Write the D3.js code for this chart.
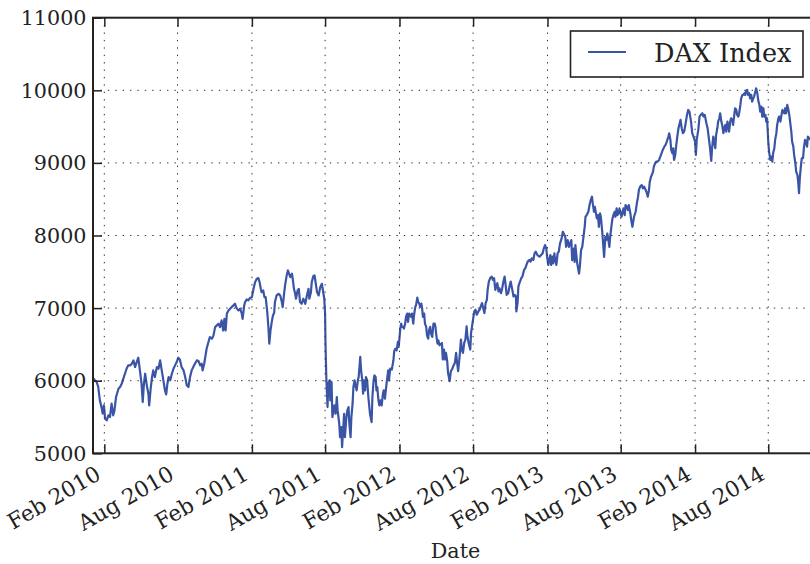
<!DOCTYPE html>
<html>
<head>
<meta charset="utf-8">
<script src="https://cdn.jsdelivr.net/npm/d3@7"></script>
<style>
  html, body { margin: 0; padding: 0; background: #fff; }
  svg { display: block; }
  text { font-family: "DejaVu Serif", serif; fill: #222; }
</style>
</head>
<body>
<svg id="chart" width="810" height="564"></svg>
<script>
// DAX closing levels, [date, index level], sampled every few trading days
const dax2010 = [
  ["2010-01-04",6040],["2010-01-08",6010],["2010-01-13",5982],["2010-01-17",5913],["2010-01-21",5729],
  ["2010-01-25",5637],["2010-01-28",5546],["2010-01-31",5660],["2010-02-03",5477],["2010-02-07",5454],
  ["2010-02-11",5523],["2010-02-15",5500],["2010-02-19",5683],["2010-02-23",5523],["2010-02-26",5591],
  ["2010-03-02",5775],["2010-03-08",5890],["2010-03-12",5913],["2010-03-16",5959],["2010-03-20",6028],
  ["2010-03-24",6096],["2010-03-28",6165],["2010-04-01",6211],["2010-04-06",6211],["2010-04-10",6234],
  ["2010-04-14",6280],["2010-04-18",6188],["2010-04-22",6257],["2010-04-26",6317],["2010-04-30",6142],
  ["2010-05-04",5959],["2010-05-07",5706],["2010-05-10",5959],["2010-05-13",6096],["2010-05-17",5936],
  ["2010-05-21",5821],["2010-05-23",5660],["2010-05-27",5913],["2010-05-30",6050],["2010-06-02",6142],
  ["2010-06-06",6050],["2010-06-11",6188],["2010-06-15",6165],["2010-06-19",6280],["2010-06-23",6142],
  ["2010-06-27",6005],["2010-07-01",5867],["2010-07-04",5812],["2010-07-07",5959],["2010-07-10",6050],
  ["2010-07-14",6005],["2010-07-18",6096],["2010-07-22",6165],["2010-07-26",6211],["2010-07-30",6257],
  ["2010-08-03",6317],["2010-08-07",6289],["2010-08-11",6188],["2010-08-16",6142],["2010-08-20",6050],
  ["2010-08-24",5936],["2010-08-28",5913],["2010-09-01",6050],["2010-09-05",6142],["2010-09-09",6188],
  ["2010-09-13",6234],["2010-09-18",6280],["2010-09-22",6271],["2010-09-26",6211],["2010-09-30",6234],
  ["2010-10-02",6142],["2010-10-06",6234],["2010-10-08",6302],["2010-10-12",6440],["2010-10-16",6523],
  ["2010-10-20",6601],["2010-10-25",6578],["2010-10-29",6624],["2010-11-02",6738],["2010-11-06",6761],
  ["2010-11-10",6784],["2010-11-14",6738],["2010-11-18",6830],["2010-11-22",6692],["2010-11-25",6853],
  ["2010-11-28",6692],["2010-12-01",6922],["2010-12-05",6968],["2010-12-09",6991],["2010-12-13",7014],
  ["2010-12-17",7037],["2010-12-21",7060],["2010-12-25",7000],["2010-12-30",6968]
];
const dax2011 = [
  ["2011-01-03",6991],["2011-01-07",6922],["2011-01-09",6853],["2011-01-13",7037],["2011-01-15",7083],
  ["2011-01-19",7119],["2011-01-23",7106],["2011-01-27",7138],["2011-02-01",7151],["2011-02-05",7266],
  ["2011-02-09",7358],["2011-02-13",7404],["2011-02-17",7413],["2011-02-20",7358],["2011-02-23",7266],
  ["2011-02-25",7220],["2011-03-01",7243],["2011-03-04",7151],["2011-03-07",7151],["2011-03-11",6945],
  ["2011-03-14",6715],["2011-03-16",6509],["2011-03-19",6692],["2011-03-22",6807],["2011-03-25",6899],
  ["2011-03-28",6936],["2011-03-30",7083],["2011-04-03",7174],["2011-04-08",7197],["2011-04-12",7174],
  ["2011-04-16",7083],["2011-04-18",7014],["2011-04-22",7220],["2011-04-24",7312],["2011-04-28",7450],
  ["2011-05-01",7519],["2011-05-04",7473],["2011-05-07",7427],["2011-05-11",7473],["2011-05-13",7404],
  ["2011-05-16",7266],["2011-05-19",7197],["2011-05-21",7129],["2011-05-25",7243],["2011-05-28",7266],
  ["2011-05-31",7083],["2011-06-04",7060],["2011-06-08",7129],["2011-06-13",7060],["2011-06-17",7174],
  ["2011-06-21",7266],["2011-06-23",7129],["2011-06-27",7220],["2011-06-29",7358],["2011-07-03",7441],
  ["2011-07-06",7450],["2011-07-09",7335],["2011-07-12",7220],["2011-07-16",7174],["2011-07-20",7289],
  ["2011-07-24",7335],["2011-07-26",7266],["2011-07-30",7129],["2011-08-01",6922],["2011-08-02",6511],
  ["2011-08-04",6051],["2011-08-07",5637],["2011-08-09",5959],["2011-08-12",6005],["2011-08-14",5729],
  ["2011-08-17",5982],["2011-08-19",5499],["2011-08-22",5591],["2011-08-24",5660],["2011-08-27",5545],
  ["2011-08-30",5775],["2011-09-01",5591],["2011-09-05",5407],["2011-09-07",5223],["2011-09-10",5361],
  ["2011-09-12",5085],["2011-09-15",5361],["2011-09-17",5545],["2011-09-19",5223],["2011-09-22",5453],
  ["2011-09-25",5591],["2011-09-28",5637],["2011-09-30",5407],["2011-10-03",5223],["2011-10-05",5499],
  ["2011-10-08",5683],["2011-10-10",5913],["2011-10-13",6005],["2011-10-15",5936],["2011-10-18",5867],
  ["2011-10-21",6005],["2011-10-23",6051],["2011-10-27",6327],["2011-10-29",6143],["2011-11-01",6005],
  ["2011-11-03",5821],["2011-11-05",6005],["2011-11-08",5867],["2011-11-10",6051],["2011-11-13",6005],
  ["2011-11-16",5775],["2011-11-20",5545],["2011-11-24",5430],["2011-11-26",5775],["2011-11-29",6005],
  ["2011-12-01",6074],["2011-12-04",6051],["2011-12-06",5867],["2011-12-08",5913],["2011-12-11",5729],
  ["2011-12-13",5660],["2011-12-16",5729],["2011-12-19",5660],["2011-12-22",5821],["2011-12-24",5867],
  ["2011-12-27",5752],["2011-12-30",5913]
];
const dax2012 = [
  ["2012-01-01",6005],["2012-01-04",6143],["2012-01-06",6005],["2012-01-09",6166],["2012-01-13",6152],
  ["2012-01-17",6281],["2012-01-19",6409],["2012-01-22",6442],["2012-01-25",6419],["2012-01-28",6534],
  ["2012-01-30",6465],["2012-02-03",6718],["2012-02-05",6787],["2012-02-07",6741],["2012-02-10",6741],
  ["2012-02-12",6718],["2012-02-15",6787],["2012-02-17",6879],["2012-02-20",6925],["2012-02-22",6810],
  ["2012-02-25",6925],["2012-02-27",6902],["2012-03-01",6879],["2012-03-03",6925],["2012-03-06",6787],
  ["2012-03-08",6902],["2012-03-11",7017],["2012-03-13",7040],["2012-03-16",7145],["2012-03-18",7086],
  ["2012-03-21",7063],["2012-03-23",7017],["2012-03-26",7063],["2012-03-28",6994],["2012-03-30",6879],
  ["2012-04-02",6925],["2012-04-04",6787],["2012-04-07",6741],["2012-04-09",6626],["2012-04-12",6580],
  ["2012-04-14",6695],["2012-04-17",6741],["2012-04-19",6649],["2012-04-22",6603],["2012-04-25",6787],
  ["2012-04-28",6787],["2012-04-30",6741],["2012-05-02",6626],["2012-05-05",6511],["2012-05-07",6557],
  ["2012-05-10",6488],["2012-05-16",6520],["2012-05-18",6292],["2012-05-21",6429],["2012-05-24",6292],
  ["2012-05-26",6383],["2012-05-29",6269],["2012-05-31",6109],["2012-06-04",5995],["2012-06-07",6132],
  ["2012-06-10",6155],["2012-06-13",6200],["2012-06-17",6246],["2012-06-20",6383],["2012-06-23",6223],
  ["2012-06-25",6132],["2012-06-28",6292],["2012-07-02",6566],["2012-07-04",6429],["2012-07-07",6383],
  ["2012-07-10",6520],["2012-07-13",6566],["2012-07-16",6749],["2012-07-18",6612],["2012-07-21",6520],
  ["2012-07-25",6429],["2012-07-27",6657],["2012-07-30",6772],["2012-08-02",6886],["2012-08-04",6954],
  ["2012-08-07",6977],["2012-08-10",6909],["2012-08-14",6954],["2012-08-17",6977],["2012-08-20",7023],
  ["2012-08-23",7069],["2012-08-27",6977],["2012-08-29",6931],["2012-09-01",7069],["2012-09-04",7114],
  ["2012-09-06",7251],["2012-09-09",7366],["2012-09-12",7411],["2012-09-16",7434],["2012-09-19",7388],
  ["2012-09-22",7411],["2012-09-25",7251],["2012-09-27",7297],["2012-09-30",7343],["2012-10-03",7229],
  ["2012-10-05",7274],["2012-10-09",7206],["2012-10-12",7274],["2012-10-15",7366],["2012-10-18",7434],
  ["2012-10-21",7297],["2012-10-23",7183],["2012-10-27",7206],["2012-10-30",7297],["2012-11-02",7366],
  ["2012-11-06",7251],["2012-11-09",7160],["2012-11-12",7183],["2012-11-15",7160],["2012-11-16",6954],
  ["2012-11-19",7069],["2012-11-21",7297],["2012-11-25",7366],["2012-11-28",7411],["2012-12-01",7434],
  ["2012-12-05",7526],["2012-12-08",7548],["2012-12-11",7594],["2012-12-14",7640],["2012-12-18",7663],
  ["2012-12-21",7640],["2012-12-24",7686],["2012-12-28",7663],["2012-12-31",7754]
];
const dax2013 = [
  ["2013-01-03",7777],["2013-01-07",7731],["2013-01-10",7717],["2013-01-13",7708],["2013-01-16",7731],
  ["2013-01-20",7754],["2013-01-23",7823],["2013-01-26",7868],["2013-01-29",7823],["2013-01-31",7708],
  ["2013-02-03",7594],["2013-02-05",7663],["2013-02-08",7731],["2013-02-10",7594],["2013-02-13",7708],
  ["2013-02-15",7617],["2013-02-18",7754],["2013-02-20",7663],["2013-02-23",7594],["2013-02-26",7754],
  ["2013-03-01",7777],["2013-03-04",7891],["2013-03-08",7960],["2013-03-11",8051],["2013-03-13",8028],
  ["2013-03-17",7982],["2013-03-19",7844],["2013-03-23",7936],["2013-03-26",7844],["2013-03-29",7890],
  ["2013-04-01",7936],["2013-04-03",7660],["2013-04-06",7821],["2013-04-09",7637],["2013-04-11",7867],
  ["2013-04-15",7637],["2013-04-17",7568],["2013-04-20",7476],["2013-04-22",7568],["2013-04-25",7798],
  ["2013-04-28",7844],["2013-05-01",7982],["2013-05-04",8120],["2013-05-06",8258],["2013-05-09",8281],
  ["2013-05-13",8327],["2013-05-16",8419],["2013-05-19",8488],["2013-05-22",8534],["2013-05-24",8442],
  ["2013-05-27",8327],["2013-05-29",8396],["2013-06-01",8304],["2013-06-03",8235],["2013-06-06",8281],
  ["2013-06-08",8120],["2013-06-11",8304],["2013-06-13",8258],["2013-06-16",8074],["2013-06-18",7936],
  ["2013-06-21",7706],["2013-06-24",7982],["2013-06-26",7936],["2013-06-29",8028],["2013-07-01",7959],
  ["2013-07-04",7844],["2013-07-06",7982],["2013-07-09",8120],["2013-07-11",8212],["2013-07-14",8281],
  ["2013-07-17",8327],["2013-07-19",8258],["2013-07-22",8373],["2013-07-24",8281],["2013-07-27",8304],
  ["2013-07-29",8373],["2013-08-01",8304],["2013-08-03",8258],["2013-08-06",8327],["2013-08-08",8373],
  ["2013-08-11",8281],["2013-08-13",8419],["2013-08-16",8396],["2013-08-19",8350],["2013-08-21",8419],
  ["2013-08-25",8304],["2013-08-27",8212],["2013-08-30",8120],["2013-09-01",8189],["2013-09-03",8258],
  ["2013-09-07",8327],["2013-09-10",8442],["2013-09-13",8534],["2013-09-15",8626],["2013-09-18",8672],
  ["2013-09-22",8695],["2013-09-25",8649],["2013-09-28",8672],["2013-10-02",8626],["2013-10-05",8580],
  ["2013-10-07",8534],["2013-10-10",8626],["2013-10-12",8741],["2013-10-15",8810],["2013-10-17",8833],
  ["2013-10-20",8879],["2013-10-22",8948],["2013-10-25",8994],["2013-10-28",9017],["2013-10-31",9017],
  ["2013-11-04",9040],["2013-11-07",9086],["2013-11-10",9132],["2013-11-13",9178],["2013-11-17",9224],
  ["2013-11-20",9247],["2013-11-23",9293],["2013-11-27",9362],["2013-11-29",9408],["2013-12-02",9316],
  ["2013-12-04",9178],["2013-12-07",9132],["2013-12-09",9201],["2013-12-11",9040],["2013-12-14",9109],
  ["2013-12-16",9224],["2013-12-19",9362],["2013-12-22",9477],["2013-12-25",9546],["2013-12-27",9592],
  ["2013-12-30",9477]
];
const dax2014 = [
  ["2014-01-02",9409],["2014-01-05",9431],["2014-01-08",9523],["2014-01-12",9661],["2014-01-15",9730],
  ["2014-01-18",9707],["2014-01-22",9569],["2014-01-25",9409],["2014-01-28",9363],["2014-02-01",9294],
  ["2014-02-03",9110],["2014-02-05",9317],["2014-02-09",9454],["2014-02-12",9638],["2014-02-15",9661],
  ["2014-02-19",9684],["2014-02-22",9638],["2014-02-25",9661],["2014-03-01",9546],["2014-03-04",9477],
  ["2014-03-07",9340],["2014-03-10",9202],["2014-03-13",9028],["2014-03-15",9202],["2014-03-18",9363],
  ["2014-03-20",9294],["2014-03-23",9202],["2014-03-25",9386],["2014-03-28",9477],["2014-03-30",9569],
  ["2014-04-02",9615],["2014-04-04",9684],["2014-04-07",9569],["2014-04-09",9523],["2014-04-12",9409],
  ["2014-04-14",9477],["2014-04-17",9523],["2014-04-19",9431],["2014-04-22",9569],["2014-04-24",9523],
  ["2014-04-26",9431],["2014-04-29",9569],["2014-05-01",9615],["2014-05-04",9592],["2014-05-06",9523],
  ["2014-05-09",9661],["2014-05-11",9753],["2014-05-14",9730],["2014-05-16",9661],["2014-05-19",9638],
  ["2014-05-21",9684],["2014-05-24",9799],["2014-05-26",9890],["2014-05-29",9936],["2014-05-31",9936],
  ["2014-06-03",9959],["2014-06-05",9936],["2014-06-07",9991],["2014-06-10",10005],["2014-06-12",9936],
  ["2014-06-15",9959],["2014-06-17",9890],["2014-06-20",9936],["2014-06-22",9845],["2014-06-25",9890],
  ["2014-06-27",9913],["2014-06-30",9982],["2014-07-02",10028],["2014-07-05",9959],["2014-07-07",9868],
  ["2014-07-10",9799],["2014-07-12",9707],["2014-07-15",9776],["2014-07-17",9638],["2014-07-20",9753],
  ["2014-07-22",9638],["2014-07-25",9661],["2014-07-27",9569],["2014-07-29",9615],["2014-08-01",9294],
  ["2014-08-03",9156],["2014-08-06",9041],["2014-08-08",9087],["2014-08-11",9018],["2014-08-13",9133],
  ["2014-08-16",9202],["2014-08-18",9317],["2014-08-21",9409],["2014-08-23",9523],["2014-08-26",9615],
  ["2014-08-28",9638],["2014-08-31",9569],["2014-09-02",9638],["2014-09-05",9730],["2014-09-07",9707],
  ["2014-09-10",9684],["2014-09-12",9753],["2014-09-14",9684],["2014-09-17",9799],["2014-09-19",9753],
  ["2014-09-22",9661],["2014-09-24",9569],["2014-09-27",9431],["2014-09-29",9294],["2014-10-02",9225],
  ["2014-10-04",9110],["2014-10-07",8995],["2014-10-09",8881],["2014-10-12",8835],["2014-10-14",8743],
  ["2014-10-16",8582],["2014-10-18",8789],["2014-10-21",8972],["2014-10-23",9064],["2014-10-26",9064],
  ["2014-10-28",9202],["2014-10-31",9317],["2014-11-02",9294],["2014-11-05",9225],["2014-11-07",9363],
  ["2014-11-10",9340],["2014-11-13",9317]
];

// Axis settings
const xDomain = ["2010-01-04", "2014-12-02"];
const xTickDates = ["2010-02-01","2010-08-01","2011-02-01","2011-08-01","2012-02-01",
                    "2012-08-01","2013-02-01","2013-08-01","2014-02-01","2014-08-01"];
const yTicks = [5000, 6000, 7000, 8000, 9000, 10000, 11000];
const seriesName = "DAX Index";
const xTitle = "Date";

const plot = { left: 93, top: 17.7, right: 818, bottom: 453.3 };
const lineColor = "#3a54a6";
const ink = "#222";
const tickFont = 20.7;
const xTickFont = 21.8;

const parse = d3.utcParse("%Y-%m-%d");
const series = [...dax2010, ...dax2011, ...dax2012, ...dax2013, ...dax2014]
  .map(([d, v]) => ({ date: parse(d), value: v }));
const xTicks = xTickDates.map(parse);

const x = d3.scaleUtc().domain(xDomain.map(parse)).range([plot.left, plot.right]);
const y = d3.scaleLinear().domain([yTicks[0], yTicks[yTicks.length - 1]]).range([plot.bottom, plot.top]);

const svg = d3.select("#chart");

svg.append("defs").append("clipPath").attr("id", "plot-area")
  .append("rect")
  .attr("x", plot.left).attr("y", plot.top)
  .attr("width", plot.right - plot.left).attr("height", plot.bottom - plot.top);

// price line
svg.append("path")
  .datum(series)
  .attr("clip-path", "url(#plot-area)")
  .attr("fill", "none")
  .attr("stroke", lineColor)
  .attr("stroke-width", 2.2)
  .attr("stroke-linejoin", "round")
  .attr("d", d3.line().x(d => x(d.date)).y(d => y(d.value)));

// dotted grid
const grid = svg.append("g")
  .attr("stroke", "#333")
  .attr("stroke-width", 1)
  .attr("stroke-dasharray", "1.4,6");
grid.selectAll("line.gx").data(xTicks).join("line")
  .attr("class", "gx")
  .attr("x1", d => x(d)).attr("x2", d => x(d))
  .attr("y1", plot.top).attr("y2", plot.bottom);
grid.selectAll("line.gy").data(yTicks.slice(1, -1)).join("line")
  .attr("class", "gy")
  .attr("x1", plot.left).attr("x2", plot.right)
  .attr("y1", d => y(d)).attr("y2", d => y(d));

// bottom axis with inward ticks and slanted labels
const xAxis = svg.append("g")
  .attr("transform", `translate(0,${plot.bottom})`)
  .call(d3.axisBottom(x).tickValues(xTicks).tickSizeInner(-9).tickSizeOuter(0)
        .tickFormat(d3.utcFormat("%b %Y")));
xAxis.select(".domain").remove();
xAxis.selectAll(".tick line").attr("stroke", ink).attr("stroke-width", 1.5);
xAxis.selectAll(".tick text")
  .attr("x", 0).attr("y", 0).attr("dy", null)
  .attr("text-anchor", "end")
  .attr("transform", "translate(-2.5,25) rotate(-30)")
  .style("font-size", xTickFont + "px")
  .style("font-family", '"DejaVu Serif", serif')
  .attr("fill", ink);

// top axis: ticks only
const xTop = svg.append("g")
  .attr("transform", `translate(0,${plot.top})`)
  .call(d3.axisTop(x).tickValues(xTicks).tickSizeInner(-9).tickSizeOuter(0).tickFormat(""));
xTop.select(".domain").remove();
xTop.selectAll(".tick line").attr("stroke", ink).attr("stroke-width", 1.5);

// left axis
const yAxis = svg.append("g")
  .attr("transform", `translate(${plot.left},0)`)
  .call(d3.axisLeft(y).tickValues(yTicks).tickSizeInner(-9).tickSizeOuter(0)
        .tickPadding(6.5).tickFormat(d3.format("d")));
yAxis.select(".domain").remove();
yAxis.selectAll(".tick line").attr("stroke", ink).attr("stroke-width", 1.5);
yAxis.selectAll(".tick text")
  .attr("dy", null)
  .attr("dominant-baseline", "central")
  .style("font-size", tickFont + "px")
  .style("font-family", '"DejaVu Serif", serif')
  .attr("fill", ink);

// frame
svg.append("rect")
  .attr("x", plot.left).attr("y", plot.top)
  .attr("width", plot.right - plot.left).attr("height", plot.bottom - plot.top)
  .attr("fill", "none").attr("stroke", ink).attr("stroke-width", 2);

// axis title
svg.append("text")
  .attr("x", (plot.left + plot.right) / 2)
  .attr("y", 558)
  .attr("text-anchor", "middle")
  .style("font-size", tickFont + "px")
  .text(xTitle);

// legend
const legend = svg.append("g");
legend.append("rect")
  .attr("x", 570.5).attr("y", 31).attr("width", 232.5).attr("height", 46)
  .attr("fill", "#fff").attr("stroke", ink).attr("stroke-width", 1.6);
legend.append("line")
  .attr("x1", 588).attr("x2", 626).attr("y1", 52).attr("y2", 52)
  .attr("stroke", lineColor).attr("stroke-width", 2.2);
legend.append("text")
  .attr("x", 654).attr("y", 61.5)
  .style("font-size", "25.5px")
  .text(seriesName);
</script>
</body>
</html>
